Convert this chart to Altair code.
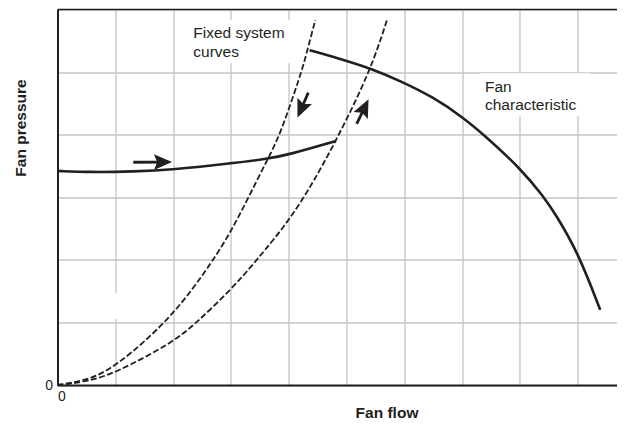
import math
import altair as alt
import pandas as pd

# ---------------- data ----------------
# fixed system curve 1 (steeper, dashed)
sys1_flow = [0.0, 0.5, 1.0, 2.0, 2.7, 3.0, 3.3, 3.63, 3.85, 4.22, 4.28, 4.46]
sys1_pres = [0.0, 0.07, 0.28, 1.09, 2.0, 2.45, 2.99, 3.6, 3.99, 5.0, 5.2, 5.83]
# fixed system curve 2 (dashed)
sys2_flow = [0.0, 0.5, 1.0, 2.0, 2.41, 3.0, 3.45, 3.59, 3.88, 4.31, 4.82, 5.41, 5.70]
sys2_pres = [0.0, 0.05, 0.19, 0.68, 1.0, 1.52, 2.0, 2.16, 2.48, 3.05, 3.9, 5.01, 5.83]
# fan characteristic, lower (stalled) branch
fan_low_flow = [0.0, 0.56, 1.31, 2.0, 2.98, 3.62, 4.0, 4.82]
fan_low_pres = [3.42, 3.40, 3.41, 3.44, 3.54, 3.61, 3.68, 3.90]
# fan characteristic, upper branch
fan_up_flow = [4.36, 4.97, 5.44, 5.93, 6.50, 7.01, 7.40, 8.01, 8.41, 8.61, 9.01, 9.39]
fan_up_pres = [5.35, 5.19, 5.05, 4.86, 4.60, 4.28, 3.98, 3.46, 3.01, 2.74, 2.11, 1.2]

# direction arrows (tail -> tip)
arrow_tail_x = [1.311, 4.339, 5.176]
arrow_tail_y = [3.559, 4.671, 4.171]
arrow_tip_x = [1.981, 4.152, 5.381]
arrow_tip_y = [3.563, 4.275, 4.565]

# annotations
label_text = ["Fixed system", "curves", "Fan", "characteristic"]
label_x = [2.349, 2.349, 7.396, 7.396]
label_y = [5.540, 5.246, 4.677, 4.394]

# white label backgrounds (break the grid)
box_x1 = [2.24, 7.31, 0.74]
box_x2 = [4.11, 9.21, 1.16]
box_y1 = [5.14, 4.30, 1.055]
box_y2 = [5.83, 4.98, 1.47]

x_ticks = list(range(0, 10))
y_ticks = list(range(0, 7))

# ---------------- layout ----------------
PX_PER_X = 57.8
W, H = 559.5, 375.5
XMAX, YMAX = W / PX_PER_X, 6
px_x, px_y = W / XMAX, H / YMAX
INK = "#231f20"
FONT = "Liberation Sans"

xs = alt.Scale(domain=[0, XMAX], nice=False, zero=False)
ys = alt.Scale(domain=[0, YMAX], nice=False, zero=False)

def curve_df(name, fx, fy):
    return pd.DataFrame({"series": name, "flow": fx, "pres": fy, "ord": range(len(fx))})

dashed = pd.concat([curve_df("s1", sys1_flow, sys1_pres), curve_df("s2", sys2_flow, sys2_pres)])
solid = pd.concat([curve_df("low", fan_low_flow, fan_low_pres), curve_df("up", fan_up_flow, fan_up_pres)])

# arrow geometry
rows = []
for tx, ty, hx, hy in zip(arrow_tail_x, arrow_tail_y, arrow_tip_x, arrow_tip_y):
    dxp = (hx - tx) * px_x
    dyp = -(hy - ty) * px_y
    L = math.hypot(dxp, dyp)
    ux, uy = dxp / L, dyp / L
    ang = math.degrees(math.atan2(dxp, -dyp)) % 360
    bx = hx - ux * 10 / px_x
    by = hy + uy * 10 / px_y
    rows.append({"tx": tx, "ty": ty, "bx": bx, "by": by, "hx": hx, "hy": hy, "ang": ang})
arrows = pd.DataFrame(rows)

boxes = pd.DataFrame({"x1": box_x1, "x2": box_x2, "y1": box_y1, "y2": box_y2})
labels = pd.DataFrame({"t": label_text, "x": label_x, "y": label_y})

x_axis = alt.Axis(
    values=x_ticks, grid=True, ticks=False, labelExpr="datum.value == 0 ? '0' : ''",
    title="Fan flow", titleX=329, titleY=32, titleBaseline="alphabetic", titleAlign="center",
    labelPadding=4, labelFontSize=14,
)
y_axis = alt.Axis(
    values=y_ticks, grid=True, ticks=False, labelExpr="datum.value == 0 ? '0' : ''",
    title="Fan pressure", titleX=-37, titleY=118, titleAngle=270, titleBaseline="middle",
    titleAlign="center", labelPadding=5, labelFontSize=14,
)

base_rect = alt.Chart(boxes).mark_rect(fill="white", stroke=None).encode(
    x=alt.X("x1:Q", scale=xs, axis=x_axis),
    x2="x2:Q",
    y=alt.Y("y1:Q", scale=ys, axis=y_axis),
    y2="y2:Q",
)

top_border = alt.Chart(pd.DataFrame({"v": [YMAX]})).mark_rule(
    color=INK, strokeWidth=1.5
).encode(y=alt.Y("v:Q", scale=ys))

dash_layer = alt.Chart(dashed).mark_line(
    interpolate="basis", color=INK, strokeWidth=1.8, strokeDash=[6, 2.5]
).encode(
    x=alt.X("flow:Q", scale=xs), y=alt.Y("pres:Q", scale=ys),
    detail="series:N", order="ord:Q",
)

solid_layer = alt.Chart(solid).mark_line(
    interpolate="basis", color=INK, strokeWidth=2.6
).encode(
    x=alt.X("flow:Q", scale=xs), y=alt.Y("pres:Q", scale=ys),
    detail="series:N", order="ord:Q",
)

shafts = alt.Chart(arrows).mark_rule(color=INK, strokeWidth=2.8).encode(
    x=alt.X("tx:Q", scale=xs), y=alt.Y("ty:Q", scale=ys), x2="bx:Q", y2="by:Q"
)

heads = alt.Chart(arrows).mark_point(
    shape="M0,0L0.44,1L0,0.82L-0.44,1Z", filled=True, fill=INK, fillOpacity=1,
    strokeWidth=0, size=1300, opacity=1,
).encode(
    x=alt.X("hx:Q", scale=xs), y=alt.Y("hy:Q", scale=ys),
    angle=alt.Angle("ang:Q", scale=None),
)

texts = alt.Chart(labels).mark_text(
    align="left", baseline="alphabetic", font=FONT, fontSize=15.5, color=INK
).encode(
    x=alt.X("x:Q", scale=xs), y=alt.Y("y:Q", scale=ys), text="t:N"
)

chart = alt.layer(base_rect, top_border, dash_layer, solid_layer, shafts, heads, texts).properties(
    width=W, height=H,
    autosize=alt.AutoSizeParams(type="none"),
    padding={"left": 49.5, "top": 1.5, "right": 0, "bottom": 37},
    background="white",
).configure_view(
    stroke=None
).configure_axis(
    domainColor=INK, domainWidth=2, gridColor="#c4c4c4", gridWidth=1.3,
    labelFont=FONT, labelColor=INK, titleFont=FONT, titleFontSize=15.5,
    titleFontWeight="bold", titleColor=INK,
)

chart.save("out.html", embed_options={"renderer": "svg", "actions": False})
